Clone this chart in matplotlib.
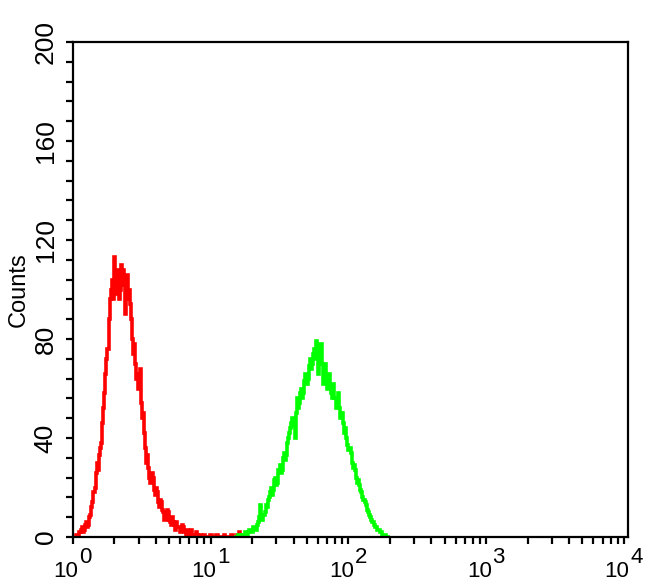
import numpy as np
import matplotlib
matplotlib.use('Agg')
import matplotlib.pyplot as plt
import matplotlib.transforms as mtrans
from matplotlib.ticker import MultipleLocator, LogLocator, NullFormatter

plt.rcParams['font.family'] = ['Liberation Sans', 'DejaVu Sans']

# Histogram channels: 256 channels per decade, bins of 2 channels
CH_PER_DECADE = 256
CH_STEP = 2

# red population (control), counts per bin starting at channel 4
red_start = 4
red_counts = [0, 1, 1, 0, 2, 3, 4, 2, 3, 5, 6, 4, 5, 8, 9, 12,
              14, 18, 20, 26, 30, 27, 33, 36, 38, 46, 52, 58, 66, 72, 76, 88,
              96, 100, 104, 96, 113, 105, 98, 108, 106, 96, 100, 110, 108, 102, 90, 104,
              106, 96, 100, 94, 88, 80, 74, 78, 70, 64, 60, 66, 68, 54, 48, 50,
              42, 36, 30, 33, 28, 24, 22, 26, 24, 19, 17, 20, 18, 14, 12, 15,
              14, 11, 10, 7, 8, 11, 10, 7, 6, 5, 8, 6, 5, 3, 6, 4,
              4, 2, 3, 5, 4, 2, 2, 1, 3, 2, 1, 0, 3, 1, 1, 0,
              2, 1, 0, 0, 1, 0, 0, 0, 1, 0, 0, 0, 0, 1, 1, 0,
              0, 0, 0, 1, 1, 0, 0, 0, 0, 0, 1, 0, 0, 0, 0, 0,
              0, 1, 1, 0, 0, 0, 1, 0, 2, 1, 1, 0]

# green population (stained), counts per bin starting at channel 300
green_start = 300
green_counts = [0, 0, 0, 1, 1, 0, 0, 1, 1, 0, 2, 1, 1, 2, 3, 2,
                2, 4, 4, 3, 3, 5, 6, 8, 13, 9, 7, 9, 10, 13, 12, 15,
                16, 18, 20, 17, 19, 23, 24, 21, 22, 27, 29, 26, 27, 32, 34, 31,
                33, 38, 40, 42, 44, 46, 48, 45, 40, 50, 56, 52, 54, 58, 60, 56,
                58, 63, 66, 62, 64, 69, 72, 68, 70, 74, 76, 72, 79, 74, 66, 76,
                78, 70, 62, 66, 70, 64, 60, 63, 66, 61, 58, 56, 62, 56, 52, 54,
                58, 52, 48, 50, 50, 46, 42, 44, 40, 37, 35, 36, 34, 30, 28, 29,
                27, 24, 22, 23, 21, 19, 18, 16, 15, 14, 13, 11, 10, 9, 8, 7,
                6, 6, 5, 4, 4, 3, 3, 2, 2, 1, 1, 1, 1, 0, 0, 0, 0]

y_major = 40
y_minor = 8
decades = [0, 1, 2, 3, 4]


def bin_edges(start, n):
    ch = start + CH_STEP * np.arange(n + 1)
    return 10 ** (ch / CH_PER_DECADE)


fig = plt.figure(figsize=(6.5, 5.85), dpi=100)
ax = fig.add_axes([73 / 650, 1 - 537 / 585, 555 / 650, 495 / 585])

ax.stairs(red_counts, bin_edges(red_start, len(red_counts)),
          color='#ff0000', linewidth=2.6)
ax.stairs(green_counts, bin_edges(green_start, len(green_counts)),
          color='#00ff00', linewidth=2.6)

ax.set_xscale('log')
ax.set_xlim(1, 10 ** 4.03)
ax.set_ylim(0, 200)

ax.yaxis.set_major_locator(MultipleLocator(y_major))
ax.yaxis.set_minor_locator(MultipleLocator(y_minor))
ax.xaxis.set_major_locator(LogLocator(base=10))
ax.xaxis.set_minor_locator(LogLocator(base=10, subs=np.arange(2, 10)))
ax.xaxis.set_major_formatter(NullFormatter())
ax.xaxis.set_minor_formatter(NullFormatter())

for s in ax.spines.values():
    s.set_linewidth(1.6)
ax.tick_params(which='both', direction='out', length=5, width=1.6,
               top=False, right=False)
ax.tick_params(axis='y', labelsize=19, pad=6, labelrotation=90)
for lab in ax.get_yticklabels():
    lab.set_va('center')

# decade labels: "10" with a full size raised exponent
xt = ax.get_xaxis_transform()
for d in decades:
    base = mtrans.offset_copy(xt, fig=fig, x=4, y=-17, units='points')
    ax.text(10 ** d, 0, '10', transform=base, ha='right', va='top',
            fontsize=16)
    sup = mtrans.offset_copy(xt, fig=fig, x=4.5, y=-7, units='points')
    ax.text(10 ** d, 0, str(d), transform=sup, ha='left', va='top',
            fontsize=16)

ax.set_ylabel('Counts', fontsize=17, labelpad=3)

fig.savefig('out.png', dpi=100)
